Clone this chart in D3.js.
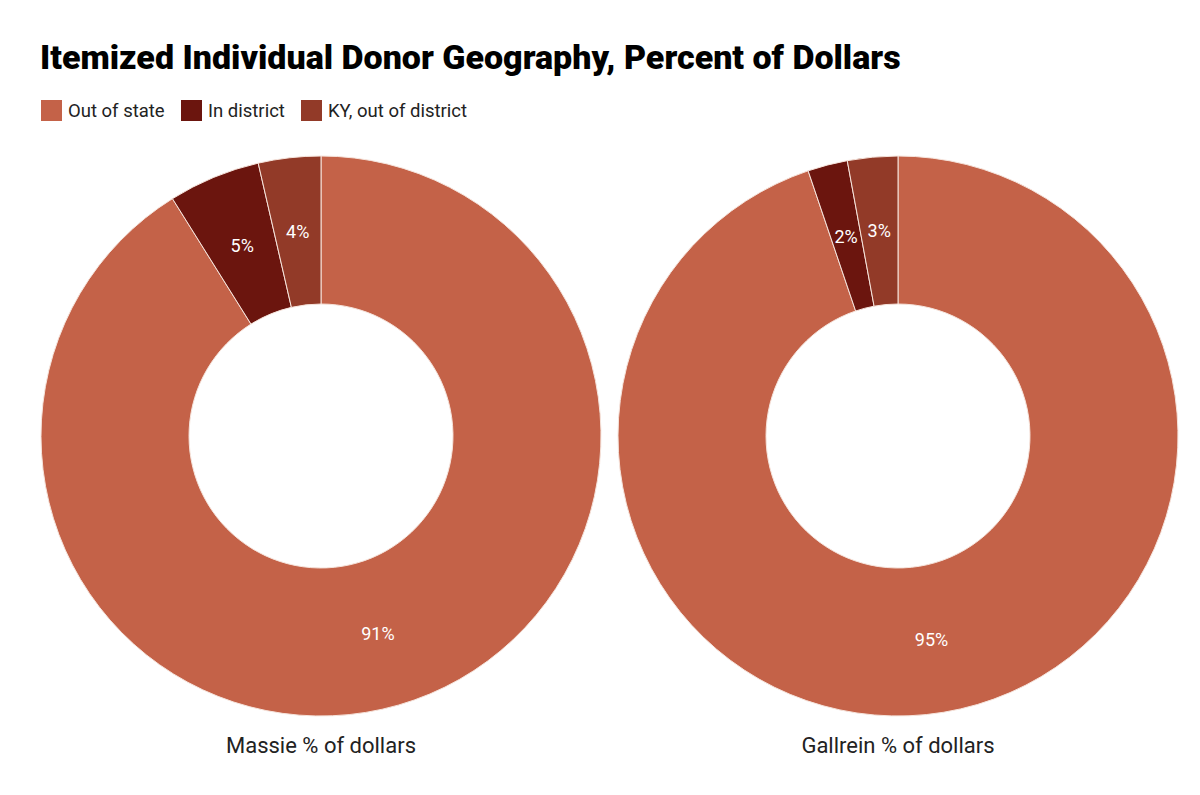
<!DOCTYPE html>
<html>
<head>
<meta charset="utf-8">
<script src="https://cdn.jsdelivr.net/npm/d3@7"></script>
<style>
  body { margin: 0; background: #fff; font-family: Roboto, "Noto Sans", sans-serif; }
</style>
</head>
<body>
<div id="chart"></div>
<script>
var width = 1200, height = 795;

var categories = ["Out of state", "In district", "KY, out of district"];
var palette = ["#c46248", "#6b150e", "#923a28"];
var candidates = ["Massie % of dollars", "Gallrein % of dollars"];
var massieValues = [91.1, 5.3, 3.6];
var gallreinValues = [94.8, 2.3, 2.9];
var labelsMassie = ["91%", "5%", "4%"];
var labelsGallrein = ["95%", "2%", "3%"];

var svg = d3.select("#chart").append("svg")
    .attr("width", width)
    .attr("height", height);

svg.append("text")
    .attr("x", 40)
    .attr("y", 69)
    .style("font-size", "34px")
    .style("font-weight", "900")
    .style("fill", "#000")
    .text("Itemized Individual Donor Geography, Percent of Dollars");

// legend
var legendX = [41, 181, 301];
var legend = svg.selectAll(".legend")
    .data(categories)
    .enter()
    .append("g")
    .attr("transform", function(d, i){ return "translate(" + legendX[i] + ", 100)"; });

legend.append("rect")
    .attr("width", 21)
    .attr("height", 21)
    .style("fill", function(d, i){ return palette[i]; });

legend.append("text")
    .attr("x", 27)
    .attr("y", 17)
    .style("font-size", "18.5px")
    .style("fill", "#222")
    .text(function(d){ return d; });

var outerR = 280, innerR = 132;
var color = d3.scaleOrdinal().domain(categories).range(palette);
var pie = d3.pie().sort(null).value(function(d){ return d.v; });
var arc = d3.arc().innerRadius(innerR).outerRadius(outerR);
var labelArc = d3.arc().innerRadius((innerR + outerR) / 2).outerRadius((innerR + outerR) / 2);

var donuts = [
    { name: candidates[0], values: massieValues, labels: labelsMassie, cx: 321 },
    { name: candidates[1], values: gallreinValues, labels: labelsGallrein, cx: 898 }
];

donuts.forEach(function(dn){
    var rows = categories.map(function(c, i){ return { c: c, v: dn.values[i], lab: dn.labels[i] }; });
    var g = svg.append("g").attr("transform", "translate(" + dn.cx + ", 436)");

    g.selectAll("path")
        .data(pie(rows))
        .enter()
        .append("path")
        .attr("d", arc)
        .style("fill", function(d){ return color(d.data.c); })
        .style("stroke", "#f6e4dc")
        .style("stroke-width", 1);

    g.selectAll(".lab")
        .data(pie(rows))
        .enter()
        .append("text")
        .attr("transform", function(d){ return "translate(" + labelArc.centroid(d) + ")"; })
        .attr("text-anchor", "middle")
        .attr("dy", "0.35em")
        .style("fill", "#fff")
        .style("font-size", "18px")
        .text(function(d){ return d.data.lab; });

    svg.append("text")
        .attr("x", dn.cx)
        .attr("y", 753)
        .attr("text-anchor", "middle")
        .style("font-size", "22px")
        .style("fill", "#222")
        .text(dn.name);
});
</script>
</body>
</html>
